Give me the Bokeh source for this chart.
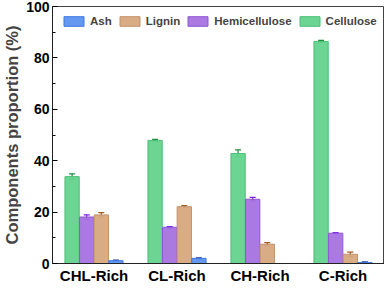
from bokeh.plotting import figure
from bokeh.models import ColumnDataSource, FactorRange, Whisker, TeeHead, Legend, LegendItem, FixedTicker
from bokeh.transform import dodge
from bokeh.embed import file_html
from bokeh.resources import INLINE

categories = ["CHL-Rich", "CL-Rich", "CH-Rich", "C-Rich"]
cellulose = [33.8, 47.9, 42.8, 86.4]
cellulose_err = [1.1, 0.4, 1.4, 0.4]
hemicellulose = [18.1, 14.1, 25.0, 11.8]
hemicellulose_err = [0.8, 0.3, 0.7, 0.2]
lignin = [18.9, 22.1, 7.5, 3.6]
lignin_err = [0.9, 0.4, 0.6, 0.8]
ash = [1.1, 2.0, 0.0, 0.4]
ash_err = [0.2, 0.2, 0.0, 0.2]

series = [
    ("Cellulose", cellulose, cellulose_err, "#64d38e", "#4cbf78", "#1d8c3a", -0.264),
    ("Hemicellulose", hemicellulose, hemicellulose_err, "#a572df", "#9157d4", "#7a1fe8", -0.088),
    ("Lignin", lignin, lignin_err, "#d6a97e", "#c3916a", "#a05a20", 0.088),
    ("Ash", ash, ash_err, "#5c92f0", "#3f78e0", "#1b3c9a", 0.264),
]

p = figure(width=384, height=286, x_range=FactorRange(factors=categories, range_padding=0),
           y_range=(0, 100), output_backend="svg", toolbar_location=None,
           min_border_top=6, min_border_right=0, min_border_left=0, min_border_bottom=0)

renderers = {}
for name, vals, errs, fill, line, ecol, off in series:
    src = ColumnDataSource(dict(cat=categories, val=vals,
                                upper=[v + e for v, e in zip(vals, errs)],
                                lower=[v - e for v, e in zip(vals, errs)]))
    r = p.vbar(x=dodge("cat", off, range=p.x_range), top="val", width=0.172, source=src,
               fill_color=fill, fill_alpha=0.95, line_color=line, line_width=1)
    renderers[name] = r
    w = Whisker(base=dodge("cat", off, range=p.x_range), upper="upper", lower="lower", source=src,
                line_color=ecol, line_width=1.2,
                upper_head=TeeHead(size=6, line_color=ecol, line_width=1.2),
                lower_head=TeeHead(size=6, line_color=ecol, line_width=1.2))
    p.add_layout(w)

legend = Legend(items=[LegendItem(label=n, renderers=[renderers[n]]) for n in ["Ash", "Lignin", "Hemicellulose", "Cellulose"]],
                orientation="horizontal", location="top_left")
legend.label_text_font = "Liberation Sans"
legend.label_text_font_style = "bold"
legend.label_text_font_size = "11.5px"
legend.glyph_width = 25
legend.glyph_height = 12
legend.label_standoff = 4
legend.label_width = 10
legend.spacing = 5
legend.padding = 0
legend.margin = 9
legend.border_line_color = None
legend.background_fill_alpha = 0
p.add_layout(legend)

p.xgrid.grid_line_color = None
p.ygrid.grid_line_color = None
p.outline_line_color = "#444444"
p.outline_line_width = 1

p.yaxis.ticker = FixedTicker(ticks=[0, 20, 40, 60, 80, 100], minor_ticks=[10, 30, 50, 70, 90])
p.yaxis.axis_label = "Components proportion (%)"
p.yaxis.axis_label_text_font = "Liberation Sans"
p.yaxis.axis_label_text_font_style = "bold"
p.yaxis.axis_label_text_font_size = "16.5px"
p.yaxis.axis_label_standoff = 2
p.yaxis.major_label_text_font = "Liberation Sans"
p.yaxis.major_label_text_font_style = "bold"
p.yaxis.major_label_text_font_size = "14px"
p.yaxis.major_label_text_color = "black"
p.yaxis.major_label_standoff = 3
p.yaxis.major_tick_in = 5
p.yaxis.major_tick_out = 0
p.yaxis.minor_tick_in = 3
p.yaxis.minor_tick_out = 0
p.yaxis.axis_line_color = "#222222"

p.xaxis.major_label_text_font = "Liberation Sans"
p.xaxis.major_label_text_font_style = "bold"
p.xaxis.major_label_text_font_size = "15px"
p.xaxis.major_label_text_color = "black"
p.xaxis.major_label_standoff = 3
p.xaxis.major_tick_in = 0
p.xaxis.major_tick_out = 0
p.xaxis.major_tick_line_color = None
p.xaxis.minor_tick_line_color = None
p.xaxis.axis_line_color = "#222222"

open("out.html", "w").write(file_html(p, INLINE))
